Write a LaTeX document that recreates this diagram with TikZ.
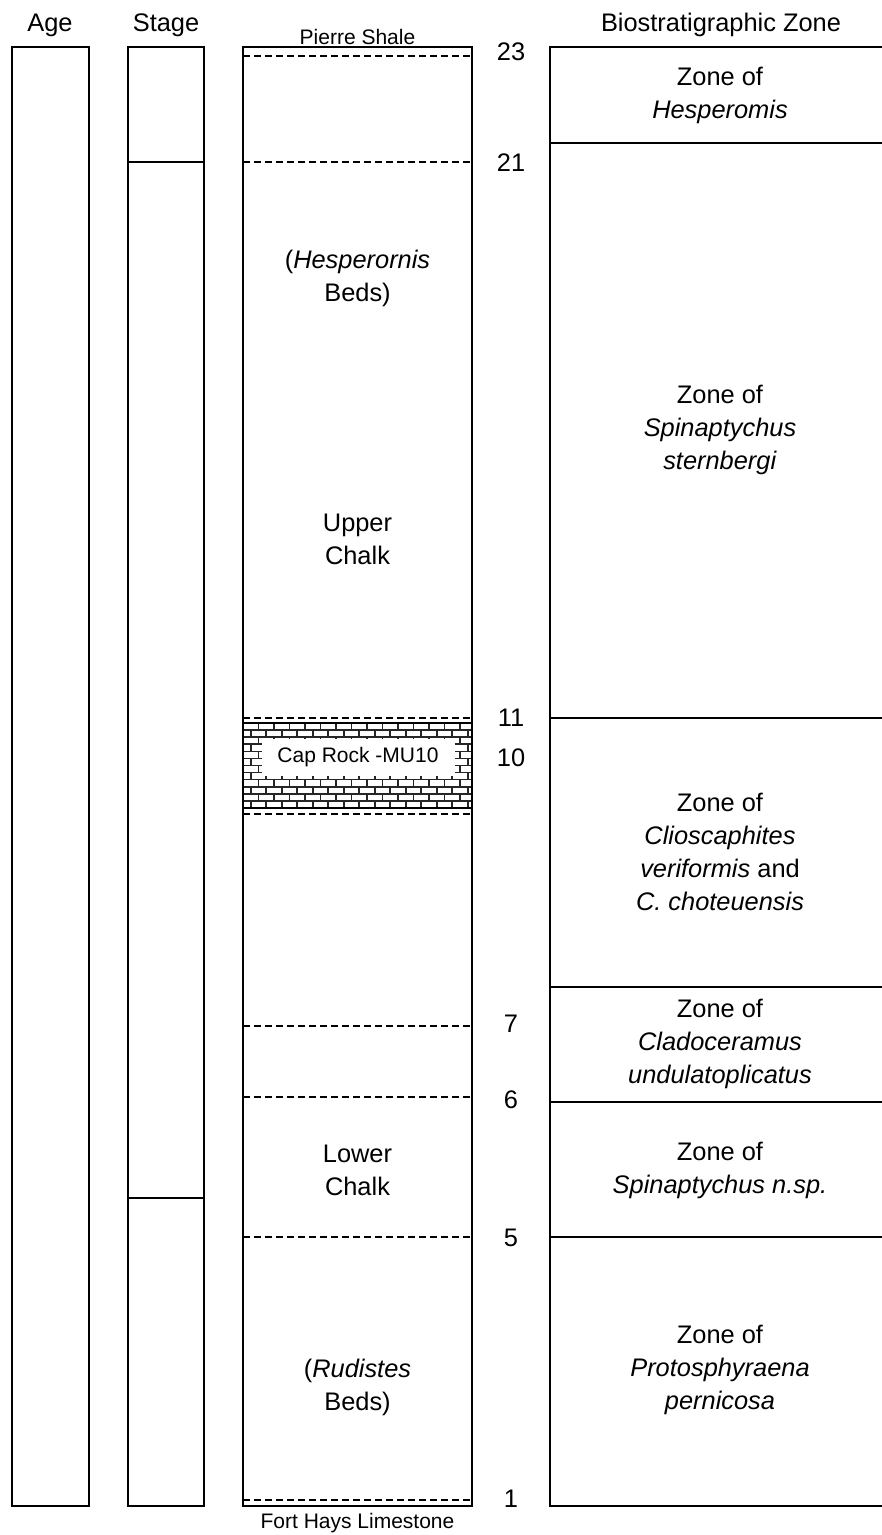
\documentclass[tikz,border=0pt]{standalone}
\usepackage{fontspec}
\setmainfont{Liberation Sans}

\begin{document}
\begin{tikzpicture}[x=0.5pt, y=-0.5pt,
  col/.style={line width=0.65pt},
  bed/.style={line width=0.6pt, dash pattern=on 3.5pt off 2pt},
  brick/.style={line width=0.8pt, black!85},
  txt/.style={font=\fontsize{12.7}{16.5}\selectfont, align=center, inner sep=0pt},
  smalltxt/.style={font=\fontsize{10.5}{12.5}\selectfont, inner sep=0pt}]
\useasboundingbox (0,0) rectangle (882,1535);

\node[txt] (age) at (50,25) {Age};
\node[txt] (stage) at (166,25) {Stage};
\node[txt] (biozone) at (721,25) {Biostratigraphic Zone};
\node[smalltxt] (pierre) at (357.5,37) {Pierre Shale};
\node[smalltxt] (forthays) at (357.5,1523) {Fort Hays Limestone};

\draw[col] (12,47) rectangle (89,1506);
\draw[col] (128,47) rectangle (204,1506);
\draw[col] (128,162) -- (204,162);
\draw[col] (128,1198) -- (204,1198);

\begin{scope}
\clip (243,723) rectangle (472,808);
\foreach \r in {0,...,11} {
  \draw[brick] (243,{723+\r*85/12}) -- (472,{723+\r*85/12});
  \foreach \c in {0,...,15}
    \draw[brick] ({243+mod(\r,2)*7.75+\c*15.5},{723+\r*85/12}) -- ++(0,{85/12});
}
\end{scope}
\draw[col] (243,723) rectangle (472,808);
\node[smalltxt, fill=white, minimum width=96.5pt, minimum height=18.5pt] (caprock) at (358,757) {Cap Rock -MU10};

\draw[col] (243,47) rectangle (472,1506);
\foreach \y in {56,162,718,814,1026,1097,1237,1500}
  \draw[bed] (243,\y) -- (472,\y);

\node[txt] (hespbeds) at (357.5,278) {(\textit{Hesperornis}\\Beds)};
\node[txt] (upper) at (357.5,539) {Upper\\Chalk};
\node[txt] (lower) at (357.5,1170) {Lower\\Chalk};
\node[txt] (rudbeds) at (357.5,1387) {(\textit{Rudistes}\\Beds)};

\foreach \n/\y in {23/52,21/163,11/718,10/758,7/1024,6/1100,5/1238,1/1499}
  \node[txt] (n\n) at (511,\y) {\n};

\draw[col] (886,47) -- (550,47) -- (550,1506) -- (886,1506);
\foreach \y in {143,718,987,1102,1237}
  \draw[col] (550,\y) -- (886,\y);

\node[txt] (zhesp) at (720,95) {Zone of\\\textit{Hesperomis}};
\node[txt] (zstern) at (720,430) {Zone of\\\textit{Spinaptychus}\\\textit{sternbergi}};
\node[txt] (zclio) at (720,852) {Zone of\\\textit{Clioscaphites}\\\textit{veriformis} and\\\textit{C. choteuensis}};
\node[txt] (zclado) at (720,1044) {Zone of\\\textit{Cladoceramus}\\\textit{undulatoplicatus}};
\node[txt] (znsp) at (720,1170) {Zone of\\\textit{Spinaptychus n.sp.}};
\node[txt] (zproto) at (720,1370) {Zone of\\\textit{Protosphyraena}\\\textit{pernicosa}};
\end{tikzpicture}
\end{document}
